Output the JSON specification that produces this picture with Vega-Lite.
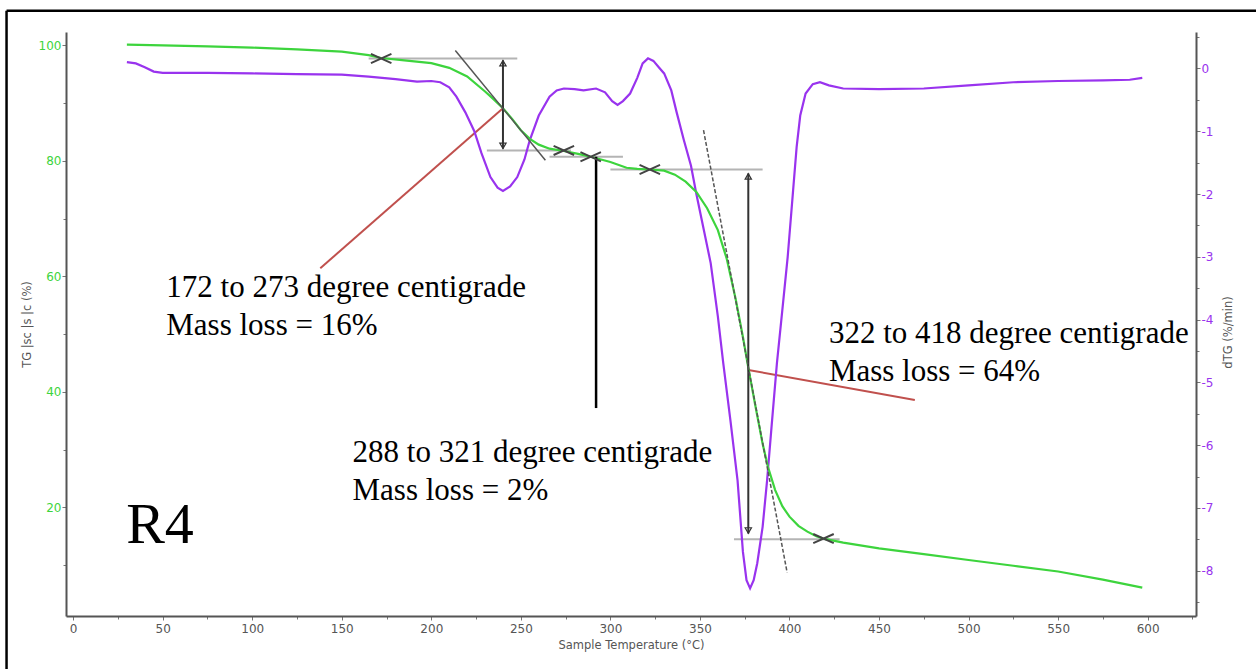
{
  "$schema": "https://vega.github.io/schema/vega-lite/v6.json",
  "width": 1130,
  "height": 584,
  "autosize": {"type": "none"},
  "padding": {"left": 66, "top": 32, "right": 60, "bottom": 53},
  "background": "white",
  "config": {
    "view": {"stroke": null},
    "axis": {
      "domainColor": "#555555",
      "domainWidth": 2,
      "tickColor": "#777777",
      "tickWidth": 1,
      "grid": false,
      "labelFont": "DejaVu Sans",
      "labelFontSize": 12,
      "titleFont": "DejaVu Sans",
      "titleFontSize": 11.5,
      "titleFontWeight": "normal",
      "titleColor": "#555555"
    }
  },
  "datasets": {
    "tg": [
      {"T": 30, "v": 100.1}, {"T": 50, "v": 100.0}, {"T": 75, "v": 99.8}, {"T": 100, "v": 99.6},
      {"T": 125, "v": 99.3}, {"T": 150, "v": 98.9}, {"T": 165, "v": 98.3}, {"T": 172, "v": 97.8},
      {"T": 185, "v": 97.4}, {"T": 200, "v": 96.9}, {"T": 210, "v": 96.1}, {"T": 220, "v": 94.6},
      {"T": 230, "v": 92.0}, {"T": 235, "v": 90.6}, {"T": 240, "v": 89.1}, {"T": 245, "v": 87.3},
      {"T": 250, "v": 85.3}, {"T": 255, "v": 83.8}, {"T": 260, "v": 82.8}, {"T": 266, "v": 82.1},
      {"T": 274, "v": 81.7}, {"T": 282, "v": 81.2}, {"T": 289, "v": 80.7}, {"T": 300, "v": 79.8},
      {"T": 309, "v": 78.8}, {"T": 315, "v": 78.6}, {"T": 322, "v": 78.5}, {"T": 330, "v": 78.3},
      {"T": 336, "v": 77.6}, {"T": 342, "v": 76.4}, {"T": 348, "v": 74.6}, {"T": 354, "v": 71.8},
      {"T": 360, "v": 68.0}, {"T": 365, "v": 63.0}, {"T": 370, "v": 56.0}, {"T": 374, "v": 49.5},
      {"T": 377, "v": 44.2}, {"T": 381, "v": 37.5}, {"T": 385, "v": 31.0}, {"T": 388, "v": 27.0},
      {"T": 392, "v": 23.0}, {"T": 396, "v": 20.2}, {"T": 400, "v": 18.4}, {"T": 405, "v": 16.8},
      {"T": 410, "v": 15.8}, {"T": 415, "v": 15.0}, {"T": 419, "v": 14.6}, {"T": 430, "v": 13.9},
      {"T": 450, "v": 12.9}, {"T": 475, "v": 11.9}, {"T": 500, "v": 10.9}, {"T": 525, "v": 9.9},
      {"T": 550, "v": 8.9}, {"T": 575, "v": 7.5}, {"T": 597, "v": 6.1}
    ],
    "dtg": [
      {"T": 30, "d": 0.10}, {"T": 35, "d": 0.08}, {"T": 40, "d": 0.02}, {"T": 45, "d": -0.05},
      {"T": 50, "d": -0.07}, {"T": 75, "d": -0.07}, {"T": 100, "d": -0.08}, {"T": 125, "d": -0.09},
      {"T": 150, "d": -0.10}, {"T": 165, "d": -0.13}, {"T": 180, "d": -0.17}, {"T": 192, "d": -0.21},
      {"T": 200, "d": -0.20}, {"T": 205, "d": -0.22}, {"T": 210, "d": -0.30}, {"T": 214, "d": -0.45},
      {"T": 219, "d": -0.70}, {"T": 224, "d": -1.00}, {"T": 228, "d": -1.35}, {"T": 233, "d": -1.73},
      {"T": 237, "d": -1.90}, {"T": 240, "d": -1.95}, {"T": 244, "d": -1.88}, {"T": 248, "d": -1.73},
      {"T": 252, "d": -1.45}, {"T": 255, "d": -1.14}, {"T": 260, "d": -0.75}, {"T": 266, "d": -0.45},
      {"T": 270, "d": -0.35}, {"T": 274, "d": -0.32}, {"T": 280, "d": -0.33}, {"T": 285, "d": -0.35},
      {"T": 292, "d": -0.32}, {"T": 297, "d": -0.38}, {"T": 301, "d": -0.52}, {"T": 304, "d": -0.58},
      {"T": 307, "d": -0.52}, {"T": 311, "d": -0.40}, {"T": 315, "d": -0.15}, {"T": 318, "d": 0.08},
      {"T": 321, "d": 0.16}, {"T": 324, "d": 0.12}, {"T": 327, "d": 0.02}, {"T": 330, "d": -0.08},
      {"T": 334, "d": -0.35}, {"T": 337, "d": -0.70}, {"T": 341, "d": -1.14}, {"T": 345, "d": -1.55},
      {"T": 348, "d": -2.00}, {"T": 352, "d": -2.55}, {"T": 356, "d": -3.10}, {"T": 360, "d": -3.95},
      {"T": 363, "d": -4.69}, {"T": 367, "d": -5.60}, {"T": 371, "d": -6.56}, {"T": 374, "d": -7.70},
      {"T": 376, "d": -8.15}, {"T": 378, "d": -8.28}, {"T": 380, "d": -8.15}, {"T": 382, "d": -7.88},
      {"T": 385, "d": -7.30}, {"T": 387.5, "d": -6.56}, {"T": 390, "d": -5.70}, {"T": 393, "d": -4.69},
      {"T": 396, "d": -3.85}, {"T": 399, "d": -3.00}, {"T": 402, "d": -1.95}, {"T": 404, "d": -1.25},
      {"T": 406, "d": -0.75}, {"T": 409, "d": -0.40}, {"T": 413, "d": -0.25}, {"T": 417, "d": -0.22},
      {"T": 422, "d": -0.27}, {"T": 430, "d": -0.32}, {"T": 450, "d": -0.33}, {"T": 475, "d": -0.32},
      {"T": 500, "d": -0.27}, {"T": 525, "d": -0.22}, {"T": 550, "d": -0.20}, {"T": 575, "d": -0.19},
      {"T": 590, "d": -0.18}, {"T": 597, "d": -0.15}
    ],
    "segs": [
      {"kind": "gray", "x1": 165, "y1": 97.7, "x2": 248, "y2": 97.7},
      {"kind": "gray", "x1": 231, "y1": 81.8, "x2": 278, "y2": 81.8},
      {"kind": "gray", "x1": 266, "y1": 80.7, "x2": 307, "y2": 80.7},
      {"kind": "gray", "x1": 300, "y1": 78.5, "x2": 385, "y2": 78.5},
      {"kind": "gray", "x1": 369, "y1": 14.5, "x2": 428, "y2": 14.5},
      {"kind": "arrow", "x1": 240, "y1": 97.4, "x2": 240, "y2": 82.1},
      {"kind": "arrow", "x1": 377, "y1": 77.8, "x2": 377, "y2": 15.5},
      {"kind": "tangent", "x1": 213.4, "y1": 99.1, "x2": 263.7, "y2": 80.1},
      {"kind": "dash", "x1": 352, "y1": 85.3, "x2": 398.7, "y2": 8.7},
      {"kind": "black", "x1": 292, "y1": 80.7, "x2": 292, "y2": 37.2},
      {"kind": "red", "x1": 240, "y1": 89.1, "x2": 138, "y2": 61.4},
      {"kind": "red", "x1": 377, "y1": 43.8, "x2": 470, "y2": 38.6},
      {"kind": "frame", "x1": -37.2, "y1": 106.0, "x2": -37.2, "y2": -8.0},
      {"kind": "frame", "x1": -37.2, "y1": 106.0, "x2": 661, "y2": 106.0}
    ],
    "crosses": [
      {"T": 172, "v": 97.7}, {"T": 274, "v": 81.8}, {"T": 289, "v": 80.7},
      {"T": 322, "v": 78.5}, {"T": 419, "v": 14.6}
    ],
    "heads": [
      {"T": 240, "v": 96.9, "dir": "up"}, {"T": 240, "v": 82.6, "dir": "down"},
      {"T": 377, "v": 77.3, "dir": "up"}, {"T": 377, "v": 16.0, "dir": "down"}
    ],
    "notes": [
      {"T": 52, "v": 56.4, "label": "172 to 273 degree centigrade"},
      {"T": 52, "v": 49.8, "label": "Mass loss = 16%"},
      {"T": 156, "v": 27.8, "label": "288 to 321 degree centigrade"},
      {"T": 156, "v": 21.3, "label": "Mass loss = 2%"},
      {"T": 422, "v": 48.4, "label": "322 to 418 degree centigrade"},
      {"T": 422, "v": 41.9, "label": "Mass loss = 64%"}
    ],
    "tag": [{"T": 29.6, "v": 13.8, "label": "R4"}]
  },
  "resolve": {
    "scale": {"y": "independent"},
    "axis": {"x": "independent", "y": "independent"}
  },
  "layer": [
    {
      "data": {"name": "segs"},
      "transform": [{"filter": "datum.kind === 'gray'"}],
      "mark": {"type": "rule", "color": "#b4b4b4", "strokeWidth": 2},
      "encoding": {
        "x": {"field": "x1", "type": "quantitative", "scale": {"domain": [-4, 627], "nice": false, "zero": false},
          "axis": {"orient": "bottom", "values": [25, 75, 125, 175, 225, 275, 325, 375, 425, 475, 525, 575, 625], "labels": false, "tickSize": 3, "domain": false, "title": null}},
        "y": {"field": "y1", "type": "quantitative", "scale": {"domain": [1.2, 102.3], "nice": false, "zero": false},
          "axis": {"orient": "left", "values": [10, 30, 50, 70, 90], "labels": false, "tickSize": 3, "domain": false, "title": null}},
        "x2": {"field": "x2"},
        "y2": {"field": "y2"}
      }
    },
    {
      "data": {"name": "segs"},
      "transform": [{"filter": "datum.kind === 'red'"}],
      "mark": {"type": "rule", "color": "#c0504d", "strokeWidth": 2},
      "encoding": {
        "x": {"field": "x1", "type": "quantitative", "scale": {"domain": [-4, 627], "nice": false, "zero": false}, "axis": null},
        "y": {"field": "y1", "type": "quantitative", "scale": {"domain": [1.2, 102.3], "nice": false, "zero": false}, "axis": null},
        "x2": {"field": "x2"},
        "y2": {"field": "y2"}
      }
    },
    {
      "data": {"name": "dtg"},
      "mark": {"type": "line", "color": "#9933ee", "strokeWidth": 2, "opacity": 0},
      "encoding": {
        "x": {"field": "T", "type": "quantitative", "scale": {"domain": [-4, 627], "nice": false, "zero": false}, "axis": null},
        "y": {"field": "d", "type": "quantitative", "scale": {"domain": [-8.72, 0.58], "nice": false, "zero": false},
          "axis": {"orient": "right", "values": [0.5, -0.5, -1.5, -2.5, -3.5, -4.5, -5.5, -6.5, -7.5, -8.5], "labels": false, "tickSize": 3, "domain": false, "title": null}}
      }
    },
    {
      "data": {"name": "dtg"},
      "mark": {"type": "line", "color": "#9933ee", "strokeWidth": 2.2},
      "encoding": {
        "x": {"field": "T", "type": "quantitative", "scale": {"domain": [-4, 627], "nice": false, "zero": false}, "axis": null},
        "y": {"field": "d", "type": "quantitative", "scale": {"domain": [-8.72, 0.58], "nice": false, "zero": false},
          "axis": {"orient": "right", "values": [0, -1, -2, -3, -4, -5, -6, -7, -8], "tickSize": 4, "labelColor": "#9933ee", "labelPadding": 1, "labelExpr": "replace(datum.label, '\u2212', '-')", "title": "dTG (%/min)", "titleAngle": 270, "titleX": 32, "titleY": 300, "titleAlign": "center", "titleBaseline": "middle"}}
      }
    },
    {
      "data": {"name": "tg"},
      "mark": {"type": "line", "color": "#3dd43d", "strokeWidth": 2.2},
      "encoding": {
        "x": {"field": "T", "type": "quantitative", "scale": {"domain": [-4, 627], "nice": false, "zero": false},
          "axis": {"orient": "bottom", "values": [0, 50, 100, 150, 200, 250, 300, 350, 400, 450, 500, 550, 600], "tickSize": 4, "labelColor": "#555555", "labelPadding": 3, "title": "Sample Temperature (°C)", "titlePadding": 5}},
        "y": {"field": "v", "type": "quantitative", "scale": {"domain": [1.2, 102.3], "nice": false, "zero": false},
          "axis": {"orient": "left", "values": [20, 40, 60, 80, 100], "tickSize": 4, "labelColor": "#3dd43d", "labelPadding": 1, "title": "TG |sc |s |c (%)", "titlePadding": 6}}
      }
    },
    {
      "data": {"name": "segs"},
      "transform": [{"filter": "datum.kind === 'arrow'"}],
      "mark": {"type": "rule", "color": "#333333", "strokeWidth": 2},
      "encoding": {
        "x": {"field": "x1", "type": "quantitative", "scale": {"domain": [-4, 627], "nice": false, "zero": false}, "axis": null},
        "y": {"field": "y1", "type": "quantitative", "scale": {"domain": [1.2, 102.3], "nice": false, "zero": false}, "axis": null},
        "x2": {"field": "x2"},
        "y2": {"field": "y2"}
      }
    },
    {
      "data": {"name": "segs"},
      "transform": [{"filter": "datum.kind === 'tangent'"}],
      "mark": {"type": "rule", "color": "#555555", "strokeWidth": 1.5},
      "encoding": {
        "x": {"field": "x1", "type": "quantitative", "scale": {"domain": [-4, 627], "nice": false, "zero": false}, "axis": null},
        "y": {"field": "y1", "type": "quantitative", "scale": {"domain": [1.2, 102.3], "nice": false, "zero": false}, "axis": null},
        "x2": {"field": "x2"},
        "y2": {"field": "y2"}
      }
    },
    {
      "data": {"name": "segs"},
      "transform": [{"filter": "datum.kind === 'dash'"}],
      "mark": {"type": "rule", "color": "#555555", "strokeWidth": 1.5, "strokeDash": [4, 2]},
      "encoding": {
        "x": {"field": "x1", "type": "quantitative", "scale": {"domain": [-4, 627], "nice": false, "zero": false}, "axis": null},
        "y": {"field": "y1", "type": "quantitative", "scale": {"domain": [1.2, 102.3], "nice": false, "zero": false}, "axis": null},
        "x2": {"field": "x2"},
        "y2": {"field": "y2"}
      }
    },
    {
      "data": {"name": "segs"},
      "transform": [{"filter": "datum.kind === 'black' || datum.kind === 'frame'"}],
      "mark": {"type": "rule", "color": "#000000", "strokeWidth": 2.5},
      "encoding": {
        "x": {"field": "x1", "type": "quantitative", "scale": {"domain": [-4, 627], "nice": false, "zero": false}, "axis": null},
        "y": {"field": "y1", "type": "quantitative", "scale": {"domain": [1.2, 102.3], "nice": false, "zero": false}, "axis": null},
        "x2": {"field": "x2"},
        "y2": {"field": "y2"}
      }
    },
    {
      "data": {"name": "crosses"},
      "mark": {"type": "point", "shape": "M-1,-0.45L1,0.45M-1,0.45L1,-0.45", "size": 420, "filled": false, "color": "#444444", "strokeWidth": 2, "opacity": 1},
      "encoding": {
        "x": {"field": "T", "type": "quantitative", "scale": {"domain": [-4, 627], "nice": false, "zero": false}, "axis": null},
        "y": {"field": "v", "type": "quantitative", "scale": {"domain": [1.2, 102.3], "nice": false, "zero": false}, "axis": null}
      }
    },
    {
      "data": {"name": "heads"},
      "mark": {"type": "point", "size": 40, "filled": false, "color": "#333333", "strokeWidth": 1.2, "opacity": 1},
      "encoding": {
        "x": {"field": "T", "type": "quantitative", "scale": {"domain": [-4, 627], "nice": false, "zero": false}, "axis": null},
        "y": {"field": "v", "type": "quantitative", "scale": {"domain": [1.2, 102.3], "nice": false, "zero": false}, "axis": null},
        "shape": {"field": "dir", "type": "nominal", "scale": {"domain": ["up", "down"], "range": ["triangle-up", "triangle-down"]}, "legend": null}
      }
    },
    {
      "data": {"name": "notes"},
      "mark": {"type": "text", "align": "left", "baseline": "alphabetic", "font": "Liberation Serif", "fontSize": 31, "color": "#000000"},
      "encoding": {
        "x": {"field": "T", "type": "quantitative", "scale": {"domain": [-4, 627], "nice": false, "zero": false}, "axis": null},
        "y": {"field": "v", "type": "quantitative", "scale": {"domain": [1.2, 102.3], "nice": false, "zero": false}, "axis": null},
        "text": {"field": "label"}
      }
    },
    {
      "data": {"name": "tag"},
      "mark": {"type": "text", "align": "left", "baseline": "alphabetic", "font": "Liberation Serif", "fontSize": 58, "color": "#000000"},
      "encoding": {
        "x": {"field": "T", "type": "quantitative", "scale": {"domain": [-4, 627], "nice": false, "zero": false}, "axis": null},
        "y": {"field": "v", "type": "quantitative", "scale": {"domain": [1.2, 102.3], "nice": false, "zero": false}, "axis": null},
        "text": {"field": "label"}
      }
    }
  ]
}
